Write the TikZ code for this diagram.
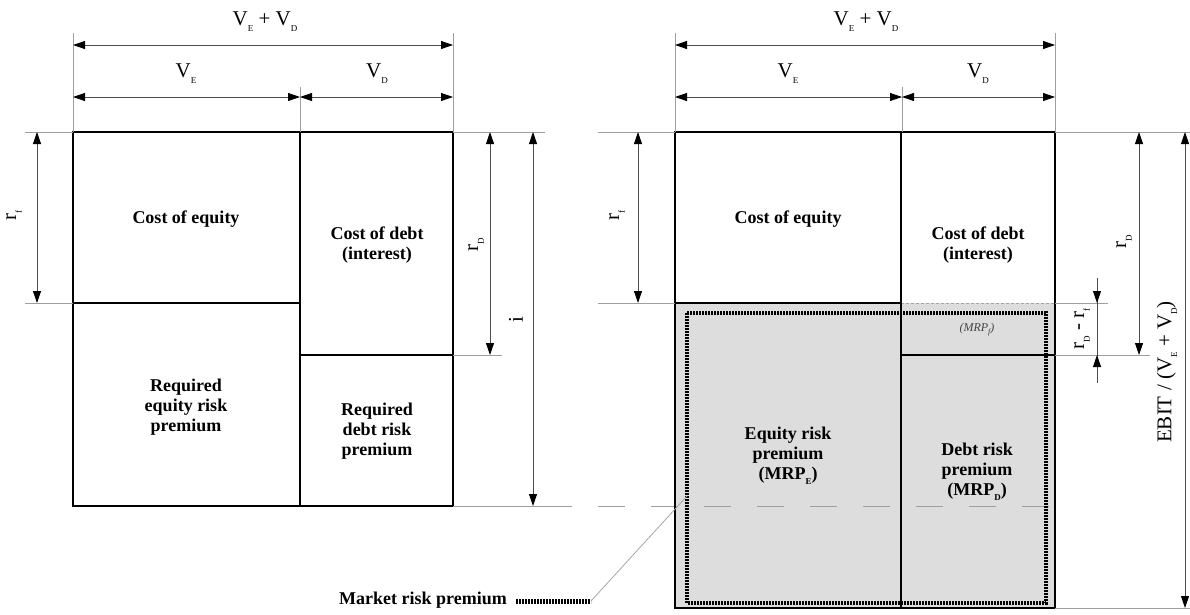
\documentclass[tikz,border=0pt]{standalone}
\usepackage{fontspec}
\setmainfont{Liberation Serif}
\usetikzlibrary{arrows.meta}
\newcommand{\lsub}[1]{\raisebox{-0.6ex}{\fontsize{9}{9}\selectfont #1}}
\newcommand{\msub}[1]{\raisebox{-0.5ex}{\fontsize{8}{8}\selectfont #1}}
\begin{document}
\begin{tikzpicture}[x=1pt,y=-1pt,
  boxline/.style={line width=2.4pt, black, line cap=rect},
  ext/.style={gray!75, line width=0.8pt},
  tipa/.tip={Triangle[length=12pt,width=8pt,color=black]},
  dimline/.style={gray!60!black, line width=0.8pt, tipa-tipa},
  onetip/.style={gray!60!black, line width=0.8pt, -tipa},
  mrp/.style={line width=3.6pt, black, dash pattern=on 1.6pt off 1.4pt},
  boxtext/.style={font=\fontsize{18}{20}\selectfont\bfseries, align=center, inner sep=0pt},
  dimtext/.style={font=\fontsize{21}{22}\selectfont, inner sep=0pt},
]
\useasboundingbox (0,0) rectangle (1190,614);

% ---------- left diagram ----------
\draw[boxline] (73,132) rectangle (453,506);
\draw[boxline] (300,132) -- (300,506);
\draw[boxline] (73,303) -- (300,303);
\draw[boxline] (300,355) -- (453,355);

\node[boxtext] (lce) at (186,219) {Cost of equity};
\node[boxtext] (lcd) at (377,245) {Cost of debt\\(interest)};
\node[boxtext] (lre) at (186,407) {Required\\equity risk\\premium};
\node[boxtext] (lrd) at (377,431) {Required\\debt risk\\premium};

% extension lines
\draw[ext] (73,33) -- (73,132);
\draw[ext] (453,33) -- (453,132);
\draw[ext] (300,87) -- (300,132);
\draw[ext] (25,132) -- (73,132);
\draw[ext] (25,303) -- (73,303);
\draw[ext] (453,132) -- (545,132);
\draw[ext] (453,355) -- (502,355);
\draw[ext] (453,506) -- (545,506);

% top dimensions
\draw[dimline] (73,45) -- (453,45);
\draw[dimline] (73,97) -- (300,97);
\draw[dimline] (300,97) -- (453,97);
\node[dimtext] (lvevd) at (265,22) {V\lsub{E} + V\lsub{D}};
\node[dimtext] (lve) at (186,74) {V\lsub{E}};
\node[dimtext] (lvd) at (377,74) {V\lsub{D}};

% vertical dimensions
\draw[dimline] (37,132) -- (37,303);
\draw[dimline] (490,132) -- (490,355);
\draw[dimline] (533,132) -- (533,506);
\node[dimtext, rotate=90] (lrf) at (14,215) {r\lsub{f}};
\node[dimtext, rotate=90] (lrdl) at (476,245) {r\lsub{D}};
\node[dimtext, rotate=90] (li) at (516,320) {i};

% ---------- right diagram ----------
\fill[gray!27] (675,303) rectangle (1055,608);
\draw[gray!70, line width=0.7pt, dash pattern=on 3pt off 2pt] (901,303) -- (1055,303);
\draw[ext, dash pattern=on 27pt off 26pt] (545,506) -- (1055,506);
\draw[boxline] (675,132) rectangle (1055,608);
\draw[boxline] (901,132) -- (901,608);
\draw[boxline] (675,303) -- (901,303);
\draw[boxline] (901,355) -- (1055,355);
\draw[mrp] (687,313) rectangle (1046,603);

\node[boxtext] (rce) at (788,219) {Cost of equity};
\node[boxtext] (rcd) at (978,245) {Cost of debt\\(interest)};
\node[font=\fontsize{12}{12}\selectfont\itshape, text=gray!55!black, inner sep=0pt] (rmf) at (977,330) {(MRP\msub{f})};
\node[boxtext] (rer) at (788,456) {Equity risk\\premium\\(MRP\lsub{E})};
\node[boxtext] (rdr) at (977,472) {Debt risk\\premium\\(MRP\lsub{D})};

% extension lines
\draw[ext] (675,33) -- (675,132);
\draw[ext] (1055,33) -- (1055,132);
\draw[ext] (902,87) -- (902,132);
\draw[ext] (598,132) -- (675,132);
\draw[ext] (598,303) -- (675,303);
\draw[ext] (1055,132) -- (1190,132);
\draw[ext] (1055,303) -- (1108,303);
\draw[ext] (1055,355) -- (1150,355);
\draw[ext] (1055,608) -- (1190,608);

% top dimensions
\draw[dimline] (675,45) -- (1055,45);
\draw[dimline] (675,97) -- (902,97);
\draw[dimline] (902,97) -- (1055,97);
\node[dimtext] (rvevd) at (866,22) {V\lsub{E} + V\lsub{D}};
\node[dimtext] (rve) at (788,74) {V\lsub{E}};
\node[dimtext] (rvd) at (978,74) {V\lsub{D}};

% vertical dimensions
\draw[dimline] (638,132) -- (638,303);
\draw[dimline] (1139,132) -- (1139,355);
\draw[dimline] (1185,132) -- (1185,608);
\draw[gray!60!black, line width=0.8pt] (1097,278) -- (1097,383);
\draw[onetip] (1097,282) -- (1097,303);
\draw[onetip] (1097,378) -- (1097,355);
\node[dimtext, rotate=90] (rrf) at (617,215) {r\lsub{f}};
\node[dimtext, rotate=90] (rrd) at (1124,242) {r\lsub{D}};
\node[dimtext, rotate=90] (rrdf) at (1082,329) {r\lsub{D} - r\lsub{f}};
\node[dimtext, rotate=90] (rebit) at (1167,372) {EBIT / (V\lsub{E} + V\lsub{D})};

% market risk premium legend
\node[boxtext, anchor=east] (mrplabel) at (507,600) {Market risk premium};
\coordinate (sampleA) at (516,601);
\coordinate (sampleB) at (591,601);
\draw[line width=5pt, black, dash pattern=on 1.6pt off 1.4pt] (sampleA) -- (sampleB);
\coordinate (leadEnd) at (687,496);
\draw[gray!70, line width=0.8pt] (sampleB) -- (leadEnd);
\end{tikzpicture}
\end{document}
